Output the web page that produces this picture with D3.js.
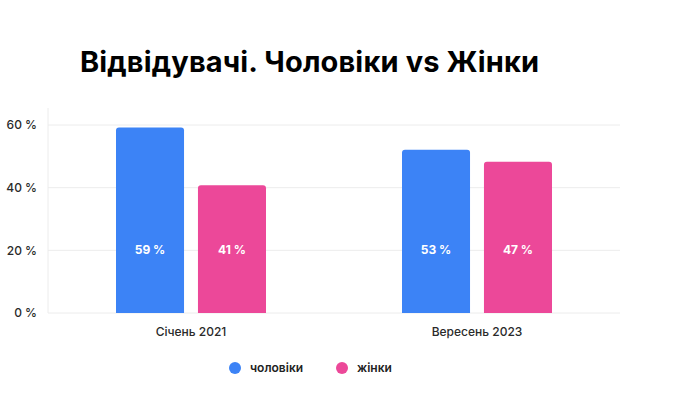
<!DOCTYPE html>
<html><head><meta charset="utf-8">
<script src="https://cdn.jsdelivr.net/npm/d3@7"></script>
<style>body{margin:0;background:#fff}svg{display:block}</style>
</head><body>
<svg id="c" width="700" height="400"></svg>
<script>
const title = "Відвідувачі. Чоловіки vs Жінки";
const categories = ["Січень 2021", "Вересень 2023"];
const seriesNames = ["чоловіки", "жінки"];
// bar heights as drawn in the picture
const men = [59.2, 52.1];
const women = [40.8, 48.3];
// value labels as printed on the bars
const menLabels = ["59 %", "53 %"];
const womenLabels = ["41 %", "47 %"];
const yTicks = [0, 20, 40, 60];
const colors = ["#3C83F6", "#EC4899"];

const svg = d3.select("#c");
const font = "Inter, 'Open Sans', sans-serif";
const m = {l:48, r:620, t:108, b:313};
const x = d3.scaleBand().domain(categories).range([m.l, m.r]);
const xs = d3.scaleBand().domain(seriesNames).range([0, 150]).paddingInner(0.17);
const y = d3.scaleLinear().domain([0, 60]).range([m.b, 125]);

svg.append("text").attr("x", 80).attr("y", 72).text(title)
  .attr("font-family", font).attr("font-weight", 700).attr("font-size", 29)
  .attr("letter-spacing", 0.15).attr("fill", "#000");

// grid
svg.append("g").selectAll("line").data(yTicks).join("line")
  .attr("x1", m.l).attr("x2", m.r).attr("y1", d=>y(d)).attr("y2", d=>y(d))
  .attr("stroke", "#ececec").attr("stroke-width", 1);
svg.append("line").attr("x1", m.l).attr("x2", m.l).attr("y1", m.t).attr("y2", m.b)
  .attr("stroke", "#ececec");

const yAxis = svg.append("g").attr("transform", `translate(${m.l},0)`)
  .call(d3.axisLeft(y).tickValues(yTicks).tickFormat(d=>d+" %").tickSize(0).tickPadding(11));
yAxis.select(".domain").remove();
yAxis.selectAll("text").attr("font-family", font).attr("font-size", 12).attr("fill", "#2a2a2a").attr("font-weight", 500);

const xAxis = svg.append("g").attr("transform", `translate(0,${m.b})`)
  .call(d3.axisBottom(x).tickSize(0).tickPadding(14));
xAxis.select(".domain").remove();
xAxis.selectAll("text").attr("font-family", font).attr("font-size", 12).attr("fill", "#2a2a2a").attr("font-weight", 500);

const data = [];
categories.forEach((c,i)=>{
  data.push({c, s:seriesNames[0], v:men[i], lab:menLabels[i], col:colors[0]});
  data.push({c, s:seriesNames[1], v:women[i], lab:womenLabels[i], col:colors[1]});
});
const off = (x.bandwidth()-150)/2;
function barPath(x0, y0, w, h, r){
  return `M${x0},${y0+h}V${y0+r}Q${x0},${y0} ${x0+r},${y0}H${x0+w-r}Q${x0+w},${y0} ${x0+w},${y0+r}V${y0+h}Z`;
}
svg.append("g").selectAll("path").data(data).join("path")
  .attr("d", d=>barPath(x(d.c)+off+xs(d.s), y(d.v), xs.bandwidth(), y(0)-y(d.v), 3))
  .attr("fill", d=>d.col);
svg.append("g").selectAll("text").data(data).join("text")
  .attr("x", d=>x(d.c)+off+xs(d.s)+xs.bandwidth()/2).attr("y", y(20)+4)
  .attr("text-anchor", "middle").text(d=>d.lab)
  .attr("font-family", font).attr("font-size", 12).attr("font-weight", 700).attr("fill", "#fff");

// legend
const lg = svg.append("g");
const lx = [235, 342];
seriesNames.forEach((n,i)=>{
  lg.append("circle").attr("cx", lx[i]).attr("cy", 368).attr("r", 6).attr("fill", colors[i]);
  lg.append("text").attr("x", lx[i]+15).attr("y", 372).text(n)
    .attr("font-family", font).attr("font-size", 12).attr("font-weight", 600).attr("fill", "#222");
});
</script>
</body></html>
